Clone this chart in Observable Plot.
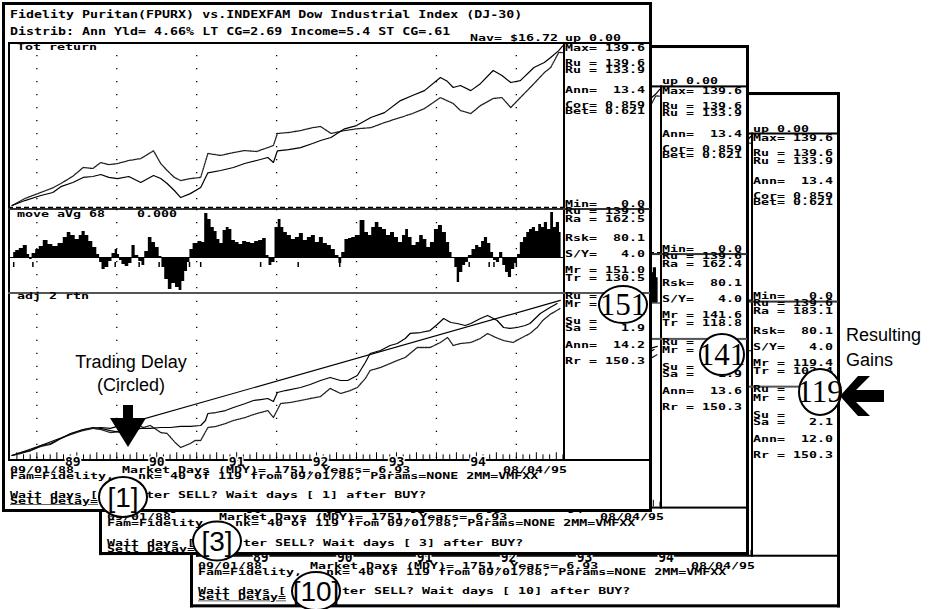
<!DOCTYPE html>
<html><head><meta charset="utf-8">
<script src="https://cdn.jsdelivr.net/npm/d3@7"></script>
<script src="https://cdn.jsdelivr.net/npm/@observablehq/plot@0.6"></script>
<style>
body{margin:0;background:#fff}
#stage{position:relative;width:933px;height:609px;overflow:hidden;background:#fff}
.panel{position:absolute;width:650px;background:#fff;transform-origin:0 0}
.t{position:absolute;white-space:pre;font-family:"DejaVu Sans Mono",monospace;font-weight:bold;font-size:13.3px;line-height:0.7;color:#000;transform-origin:50% 50%}
.ln{position:absolute}
.plot{position:absolute}
</style></head><body><div id="stage"></div>
<script>
// ---------- data ----------
const xDomain = [1988.67, 1995.59];           // 09/01/88 .. 08/04/95
const gridYears = [1989, 1990, 1991, 1992, 1993, 1994, 1995];
const yearLabels = ["89", "90", "91", "92", "93", "94"];
const yearLabelPos = [1989.45, 1990.5, 1991.5, 1992.55, 1993.5, 1994.52];

// Tot return panel
const totYears = [1988.69,1988.85,1989.05,1989.20,1989.30,1989.45,1989.58,1989.70,1989.80,1989.90,1990.01,1990.15,1990.30,1990.46,1990.55,1990.63,1990.72,1990.80,1990.92,1991.05,1991.14,1991.30,1991.46,1991.60,1991.75,1991.89,1991.96,1992.01,1992.15,1992.30,1992.45,1992.55,1992.68,1992.85,1993.00,1993.18,1993.35,1993.55,1993.70,1993.85,1994.05,1994.13,1994.21,1994.30,1994.43,1994.55,1994.71,1994.82,1994.93,1995.05,1995.22,1995.35,1995.43,1995.53,1995.58];
const fundTot = [1.7,6,10.4,13,18,21.6,26,26.8,28.5,26,25,26.8,21.6,27.6,25,20.7,14.7,8.6,12,17.3,30,32,34.6,38,40.6,43.2,38.9,49,50,51.8,55.3,57.9,60.5,68,70.8,77.8,82,92.4,96.8,101,112.3,109.4,103.7,105.4,101,107,118.4,114,108,109.7,121,125.3,129.6,135.6,139.6];
const indexTot = [1.7,7.8,13,17,20.7,27,34.6,33.7,38.9,37,38,40.6,42.3,49,38,32,26,23.3,25,26,46.7,45,47.5,49.2,48.4,51.8,53.6,64,64.8,66.5,69,70,64,66.5,68,69,73.4,77.8,81.2,85.5,95,92.4,89.9,83.8,81.2,88,94.2,95,86.4,95,107,116.6,121,134,133.9];

// move aVg 68 panel: [year, value]
const moveAvg = [[1988.71,5],[1988.76,7],[1988.80,9],[1988.86,12],[1988.90,3],[1988.92,-2],[1988.96,4],[1989.01,8],[1989.05,11],[1989.11,17],[1989.17,13],[1989.23,11],[1989.30,14],[1989.36,20],[1989.40,25],[1989.45,22],[1989.51,18],[1989.55,22],[1989.58,26],[1989.63,22],[1989.67,16],[1989.73,10],[1989.77,3],[1989.80,-5],[1989.83,-12],[1989.88,-10],[1989.92,-4],[1989.96,4],[1990.00,8],[1990.02,3],[1990.05,-3],[1990.08,-7],[1990.13,-9],[1990.17,-6],[1990.21,12],[1990.25,2],[1990.30,-4],[1990.33,-8],[1990.37,6],[1990.42,20],[1990.46,15],[1990.51,10],[1990.55,1],[1990.58,-10],[1990.62,-22],[1990.67,-32],[1990.71,-26],[1990.76,-30],[1990.80,-33],[1990.83,-24],[1990.87,-14],[1990.90,-5],[1990.93,8],[1990.98,14],[1991.05,16],[1991.08,15],[1991.12,44],[1991.16,38],[1991.20,30],[1991.24,26],[1991.27,18],[1991.31,14],[1991.35,27],[1991.39,30],[1991.42,28],[1991.46,17],[1991.51,15],[1991.55,13],[1991.60,16],[1991.65,15],[1991.70,14],[1991.75,16],[1991.80,17],[1991.85,19],[1991.89,2],[1991.92,-8],[1991.96,-5],[1992.00,30],[1992.04,38],[1992.07,30],[1992.11,25],[1992.16,22],[1992.21,18],[1992.26,20],[1992.31,24],[1992.36,17],[1992.41,20],[1992.46,22],[1992.51,15],[1992.56,20],[1992.61,14],[1992.66,12],[1992.71,8],[1992.76,2],[1992.80,-6],[1992.83,5],[1992.88,18],[1992.92,19],[1992.96,20],[1993.01,22],[1993.08,37],[1993.13,25],[1993.17,22],[1993.21,30],[1993.26,35],[1993.30,30],[1993.35,28],[1993.40,22],[1993.45,25],[1993.50,20],[1993.55,15],[1993.60,22],[1993.63,28],[1993.67,20],[1993.72,12],[1993.77,15],[1993.81,22],[1993.86,18],[1993.90,10],[1993.95,15],[1994.00,28],[1994.05,32],[1994.10,25],[1994.15,15],[1994.18,5],[1994.21,0],[1994.25,-10],[1994.27,-25],[1994.31,-15],[1994.35,-8],[1994.38,-5],[1994.42,2],[1994.47,8],[1994.51,12],[1994.55,10],[1994.58,16],[1994.62,20],[1994.66,14],[1994.70,5],[1994.73,-3],[1994.77,-5],[1994.81,5],[1994.85,-8],[1994.88,-15],[1994.92,-20],[1994.96,-12],[1995.00,-6],[1995.03,3],[1995.07,15],[1995.11,20],[1995.15,25],[1995.18,28],[1995.22,30],[1995.26,26],[1995.30,33],[1995.33,30],[1995.37,35],[1995.41,28],[1995.45,45],[1995.48,30],[1995.52,35],[1995.56,25]];
const signalYears = [1988.71,1988.95,1989.84,1989.98,1990.28,1990.53,1990.91,1991.05,1991.80,1992.27,1992.79,1994.27,1994.41,1994.66,1994.72,1995.00];

// adj 2 rtn panel
const adjUpYears = [1988.69,1988.80,1988.92,1989.05,1989.17,1989.30,1989.42,1989.58,1989.70,1989.80,1989.92,1990.05,1990.17,1990.30,1990.42,1990.55,1990.67,1990.80,1990.92,1991.05,1991.11,1991.14,1991.24,1991.36,1991.46,1991.61,1991.71,1991.80,1991.89,1991.96,1992.01,1992.11,1992.30,1992.42,1992.55,1992.67,1992.80,1992.89,1993.01,1993.11,1993.17,1993.30,1993.42,1993.51,1993.61,1993.67,1993.80,1993.92,1994.01,1994.09,1994.18,1994.26,1994.36,1994.43,1994.55,1994.64,1994.76,1994.84,1994.92,1995.01,1995.11,1995.17,1995.30,1995.40,1995.51];
const adjUpValues = [2.9,5.7,7.6,12.4,14.3,19.1,23.9,27.7,29.6,28.7,26.7,24.8,26.7,28.7,28.7,29.6,29.6,30.6,30.6,31.5,36.3,43,43.9,45.8,48.7,52.5,55.4,56.3,57.3,54.4,63,64.9,67.8,70.7,74.5,77.4,74.5,74.5,79.3,91.7,100.3,103.1,107.9,109.8,114.6,119.4,120.3,122.2,128,133.7,129.9,128.9,127,128.9,133.7,136.6,131.8,125.1,124.2,125.1,127,128.9,138.5,143.3,148];
const adjLowYears = [1988.69,1988.80,1988.92,1989.05,1989.17,1989.30,1989.42,1989.58,1989.70,1989.80,1989.92,1990.05,1990.17,1990.26,1990.33,1990.42,1990.55,1990.63,1990.73,1990.80,1990.86,1990.92,1990.98,1991.05,1991.14,1991.24,1991.36,1991.46,1991.61,1991.71,1991.89,1991.96,1992.05,1992.17,1992.30,1992.42,1992.55,1992.67,1992.80,1992.92,1993.01,1993.11,1993.17,1993.30,1993.51,1993.61,1993.76,1993.92,1994.05,1994.14,1994.21,1994.30,1994.43,1994.55,1994.64,1994.74,1994.84,1994.96,1995.05,1995.17,1995.26,1995.33,1995.42,1995.55];
const adjLowValues = [2.9,4.8,7.6,11.5,13.4,19.1,22.9,26.7,28.7,27.7,24.8,25.8,28.7,32.5,29.6,31.5,24.8,23.9,15.3,10.5,12.4,14.3,17.2,17.2,29.6,30.6,33.4,36.3,39.2,42,45.8,39.2,52.5,53.5,55.4,57.3,59.2,66.9,62.1,64.9,67.8,76.4,84,86.9,93.6,96.5,106,106,110.8,115.6,107.9,109.8,110.8,114.6,119.4,115.6,112.7,110.8,114.6,119.4,125.1,131.8,137.5,143.3];
const trendYears = [1988.69,1989.05,1989.58,1989.80,1989.92,1995.55];
const trendValues = [2.9,12.4,27.7,29.6,28.7,151.0];

// the three overlapping screens (back to front)
const screens = [
  {x:190, y:92, h:509, sy:1.0125, front:false, ra:"183.1", mr:"119.4", tr:"102.4", sa:"2.1", ann:"12.0", wait:"10"},
  {x:99,  y:45, h:505, sy:1.01,   front:false, ra:"162.4", mr:"141.6", tr:"118.8", sa:"1.9", ann:"13.6", wait: "3"},
  {x:2,   y:2,  h:510, sy:1,      front:true,  ra:"162.5", mr:"151.0", tr:"130.5", sa:"1.9", ann:"14.2", wait: "1"}
];
const circles = [
  {cx:123, cy:497, rx:24, ry:20, label:"[1]", serif:false},
  {cx:217, cy:541, rx:24, ry:19.5, label:"[3]", serif:false},
  {cx:316, cy:591, rx:24, ry:19, label:"[10]", serif:false},
  {cx:623, cy:304.5, rx:24, ry:18.5, label:"151", serif:true},
  {cx:722, cy:354.5, rx:22, ry:20.5, label:"141", serif:true},
  {cx:820, cy:392, rx:21, ry:23, label:"119", serif:true}
];

// ---------- helpers ----------
const stage = document.getElementById("stage");
function el(parent, cls, css, text) {
  const d = document.createElement("div");
  if (cls) d.className = cls;
  Object.assign(d.style, css);
  if (text != null) d.textContent = text;
  parent.appendChild(d);
  return d;
}
function rect(parent, x, y, w, h, c = "#000") {
  return el(parent, "ln", {left: x + "px", top: y + "px", width: w + "px", height: h + "px", background: c});
}
function txt(parent, x, yc, s, sy = 0.66, extra = {}) {
  return el(parent, "t", Object.assign({left: x + "px", top: yc + "px", transform: `translateY(-50%) scaleY(${sy})`}, extra), s);
}
function addPlot(parent, x, y, opts) {
  const svg = Plot.plot(Object.assign({style: {background: "transparent", overflow: "visible"}}, opts));
  const w = el(parent, "plot", {left: x + "px", top: y + "px"});
  w.appendChild(svg);
}

const totData = totYears.map((t, i) => ({t, fund: fundTot[i], index: indexTot[i]}));
const upData = adjUpYears.map((t, i) => ({t, v: adjUpValues[i]}));
const lowData = adjLowYears.map((t, i) => ({t, v: adjLowValues[i]}));
const trendData = trendYears.map((t, i) => ({t, v: trendValues[i]}));
const monthTicks = d3.range(1988.75, 1995.59, 1 / 12);
const X = {domain: xDomain, range: [2, 555], axis: null};
const grid = (o = {}) => Plot.ruleX(gridYears, Object.assign({stroke: "#000", strokeWidth: 1.3, strokeDasharray: "1.3,11.7"}, o));

function panel(cfg) {
  const H = cfg.h;
  const p = el(stage, "panel", {left: cfg.x + "px", top: cfg.y + "px", height: H + "px", transform: `scaleY(${cfg.sy})`});
  // outer window border
  rect(p, 0, 0, 650, 3); rect(p, 0, 0, 3, H); rect(p, 647, 0, 3, H); rect(p, 0, H - 3, 650, 3);
  // chart frame and stat column
  rect(p, 6, 40, 2, 419);
  rect(p, 6, 40, 642, 2);
  rect(p, 561, 40, 2, 419);
  rect(p, 6, 206, 642, 2, "#333");
  rect(p, 6, 290, 642, 2, "#555");
  rect(p, 6, 457, 642, 2);

  // Tot return
  addPlot(p, 6, 40, {
    width: 555, height: 168, margin: 0, x: X,
    y: {domain: [0, 140], range: [165, 3], axis: null},
    marks: [
      grid(),
      Plot.ruleY([0], {stroke: "#000", strokeWidth: 1.3, strokeDasharray: "5,3"}),
      Plot.line(totData, {x: "t", y: "index", stroke: "#222", strokeWidth: 1.3, strokeDasharray: "1.6,1"}),
      Plot.line(totData, {x: "t", y: "fund", stroke: "#000", strokeWidth: 1.2})
    ]
  });
  // move aVg
  addPlot(p, 6, 207, {
    width: 555, height: 84, margin: 0, x: X,
    y: {domain: [-35, 47], range: [83, 1], axis: null},
    marks: [
      grid(),
      Plot.areaY(moveAvg, {x: d => d[0], y: d => d[1], curve: "step", fill: "#000"}),
      Plot.ruleY([0], {stroke: "#000", strokeWidth: 1}),
      Plot.ruleX(signalYears, {y1: -5, y2: -10, stroke: "#000", strokeWidth: 1.5})
    ]
  });
  // adj 2 rtn
  addPlot(p, 6, 290, {
    width: 555, height: 176, margin: 0, x: X,
    y: {domain: [0, 157], range: [166, 1.6], axis: null},
    marks: [
      grid({y1: 0, y2: 157}),
      Plot.ruleX(monthTicks, {y1: -1, y2: (d, i) => (i % 3 === 0 ? 5.5 : 3.5), stroke: "#000", strokeWidth: 1}),
      Plot.line(trendData, {x: "t", y: "v", stroke: "#000", strokeWidth: 1.2}),
      Plot.line(lowData, {x: "t", y: "v", stroke: "#222", strokeWidth: 1.3, strokeDasharray: "1.6,1"}),
      Plot.line(upData, {x: "t", y: "v", stroke: "#000", strokeWidth: 1.2}),
      Plot.text(yearLabelPos, {x: d => d, y: -3, text: (d, i) => yearLabels[i], fontFamily: "DejaVu Sans Mono", fontWeight: "bold", fontSize: 13, fill: "#000", stroke: "#fff", strokeWidth: 3})
    ]
  });

  // header texts (only the front screen's are visible)
  if (cfg.front) {
    txt(p, 8, 12.5, "Fidelity Puritan(FPURX) vs.INDEXFAM Dow Industrial Index (DJ-30)", 0.8);
    txt(p, 8, 30, "Distrib: Ann Yld= 4.66% LT CG=2.69 Income=5.4 ST CG=.61", 0.8);
    txt(p, 468, 35.5, "Nav= $16.72", 0.7);
    txt(p, 15, 45, "Tot return", 0.7);
    txt(p, 15, 212, "move aVg 68    0.000", 0.7);
    txt(p, 15, 294, "adj 2 rtn", 0.7);
  }
  txt(p, 563, 35.5, "up 0.00", 0.7);

  // stat column (values under the circles are hidden, so only labels are kept there)
  const stats = [
    ["Max= 139.6", 45.5], ["Ru = 139.6", 61], ["Ru = 133.9", 67.5], ["Ann=  13.4", 87.5],
    ["Cor= 0.859", 102.5], ["Bet= 0.621", 109], ["Min=   0.0", 202], ["Ru = 139.6", 209],
    ["Ra = " + cfg.ra, 216.5], ["Rsk=  80.1", 236], ["S/Y=   4.0", 251.5], ["Mr = " + cfg.mr, 268],
    ["Tr = " + cfg.tr, 275.5], ["Ru =", 293.5], ["Mr =", 301.5], ["Su =", 318.5],
    ["Sa =   " + cfg.sa, 326], ["Ann=  " + cfg.ann, 343], ["Rr = 150.3", 359]
  ];
  stats.forEach(([s, y]) => txt(p, 563, y, s, 0.62));

  // bottom texts, split around the circled wait-days annotation
  txt(p, 8, 467.5, "09/01/88", 0.62);
  txt(p, 120, 467.5, "Market Days (MDY)= 1751, Years= 6.93", 0.62);
  txt(p, 501, 467.5, "08/04/95", 0.62);
  txt(p, 8, 474, "Fam=Fidelity,", 0.62);
  txt(p, 136, 474, "nk= 40 of 119 from 09/01/88, Params=NONE 2MM=VMFXX", 0.62);
  txt(p, 8, 492.5, "Wait days [", 0.62);
  const rest = `after SELL? Wait days [ ${cfg.wait}] after BUY?`;
  const skip = cfg.wait.length === 1 ? 17 : 18;   // characters covered by the circle
  txt(p, 8 + skip * 8, 492.5, rest.slice(2), 0.62);
  txt(p, 8, 498.5, "Sell Delay=", 0.62, {textDecoration: "underline"});
}
screens.forEach(panel);

// ---------- annotations ----------
const NS = "http://www.w3.org/2000/svg";
const ov = document.createElementNS(NS, "svg");
ov.setAttribute("width", 933); ov.setAttribute("height", 609);
ov.style.position = "absolute"; ov.style.left = "0"; ov.style.top = "0";
let html = "";
circles.forEach(c => {
  html += `<ellipse cx="${c.cx}" cy="${c.cy}" rx="${c.rx}" ry="${c.ry}" fill="#fff" stroke="#000" stroke-width="2"/>`;
  if (c.serif) html += `<text x="${c.cx}" y="${c.cy + 10}" text-anchor="middle" font-family="Liberation Serif" font-size="31">${c.label}</text>`;
  else html += `<text x="${c.cx}" y="${c.cy + 10}" text-anchor="middle" font-family="Liberation Sans" font-size="28">${c.label}</text>`;
});
html += `<text x="131" y="368" text-anchor="middle" font-family="Liberation Sans" font-size="18">Trading Delay</text>`;
html += `<text x="131" y="391" text-anchor="middle" font-family="Liberation Sans" font-size="18">(Circled)</text>`;
html += `<polygon points="123,405 133,405 133,418 146,418 128,447 110,418 123,418" fill="#000"/>`;
html += `<text x="846" y="341" font-family="Liberation Sans" font-size="18">Resulting</text>`;
html += `<text x="846" y="366" font-family="Liberation Sans" font-size="18">Gains</text>`;
html += `<polygon points="840,396 858,376 870,376 856,390 884,390 884,402 856,402 870,416 858,416" fill="#000"/>`;
ov.innerHTML = html;
stage.appendChild(ov);
</script></body></html>
